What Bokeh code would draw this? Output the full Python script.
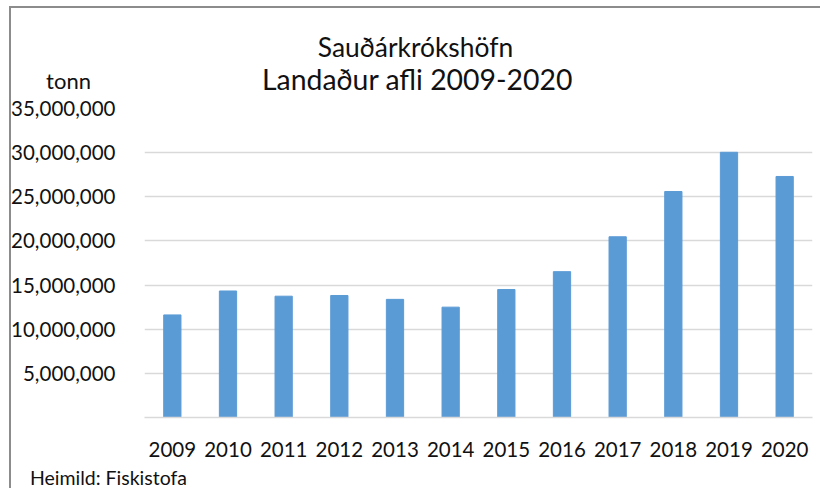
from bokeh.plotting import figure
from bokeh.layouts import column
from bokeh.models import NumeralTickFormatter, FixedTicker, FactorRange, Range1d
from bokeh.embed import file_html
from bokeh.resources import INLINE
from bokeh.core.properties import value

# ---- data ----
years = ["2009", "2010", "2011", "2012", "2013", "2014",
         "2015", "2016", "2017", "2018", "2019", "2020"]
catch = [11_620_000, 14_330_000, 13_740_000, 13_820_000, 13_380_000, 12_500_000,
         14_500_000, 16_520_000, 20_470_000, 25_600_000, 30_040_000, 27_300_000]
y_ticks = [5_000_000, 10_000_000, 15_000_000, 20_000_000,
           25_000_000, 30_000_000, 35_000_000]
y_max = 35_000_000
title_lines = ["Sauðárkrókshöfn", "Landaður afli 2009-2020"]
unit_label = "tonn"
source_note = "Heimild: Fiskistofa"

FONT = "Lato"
BAR = "#5B9BD5"
GRID = "#D9D9D9"
TXT = "#111111"
W = 820
H_HEAD, H_MAIN, H_FOOT = 96, 368, 24


def text_panel(h):
    f = figure(width=W, height=h, x_range=Range1d(0, W), y_range=Range1d(h, 0),
               output_backend="svg", toolbar_location=None,
               x_axis_location=None, y_axis_location=None, frame_align=False,
               min_border=0, min_border_left=0, min_border_right=0,
               min_border_top=0, min_border_bottom=0)
    f.grid.visible = False
    f.outline_line_color = None
    f.background_fill_alpha = 0
    f.border_fill_alpha = 0
    return f


# ---- header with titles ----
head = text_panel(H_HEAD)
head.text(x=[415], y=[46.5], text=[title_lines[0]], text_align="center",
          text_baseline="middle", text_font=value(FONT), text_font_size="26.4px",
          text_color=TXT)
head.text(x=[417], y=[78.6], text=[title_lines[1]], text_align="center",
          text_baseline="middle", text_font=value(FONT), text_font_size="28.4px",
          text_color=TXT)
head.text(x=[68], y=[79.5], text=[unit_label], text_align="center",
          text_baseline="middle", text_font=value(FONT), text_font_size="22px",
          text_color=TXT)

# ---- main chart ----
p = figure(width=W, height=H_MAIN,
           x_range=FactorRange(*years), y_range=Range1d(0, y_max),
           output_backend="svg", toolbar_location=None, frame_align=False,
           min_border_left=144, min_border_right=8,
           min_border_top=12, min_border_bottom=47)
p.outline_line_color = None
p.background_fill_alpha = 0
p.border_fill_alpha = 0

p.vbar(x=years, top=catch, width=0.31, fill_color=BAR, line_color=BAR)

p.yaxis.ticker = FixedTicker(ticks=y_ticks)
p.yaxis.formatter = NumeralTickFormatter(format="0,0")
p.yaxis.axis_line_color = None
p.yaxis.major_tick_line_color = None
p.yaxis.minor_tick_line_color = None
p.yaxis.major_label_standoff = 23
p.yaxis.major_label_text_font = FONT
p.yaxis.major_label_text_font_size = "20.5px"
p.yaxis.major_label_text_color = TXT

p.xaxis.axis_line_color = GRID
p.xaxis.axis_line_width = 1.5
p.xaxis.major_tick_line_color = None
p.xaxis.minor_tick_line_color = None
p.xaxis.major_label_standoff = 18
p.xaxis.major_label_text_font = FONT
p.xaxis.major_label_text_font_size = "20.5px"
p.xaxis.major_label_text_color = TXT

p.xgrid.grid_line_color = None
p.ygrid.grid_line_color = GRID
p.ygrid.grid_line_width = 1.5

# ---- footer ----
foot = text_panel(H_FOOT)
foot.text(x=[29.4], y=[13.4], text=[source_note], text_align="left",
          text_baseline="middle", text_font=value(FONT), text_font_size="19.5px",
          text_color=TXT)

frame_bg = ("linear-gradient(#8c8c8c, #8c8c8c) 9px 6px / 2px 100% no-repeat, "
            "linear-gradient(#8c8c8c, #8c8c8c) 9px 6px / 100% 2px no-repeat, white")
layout = column(head, p, foot, spacing=0, styles={"background": frame_bg})

open("out.html", "w").write(file_html(layout, INLINE))
